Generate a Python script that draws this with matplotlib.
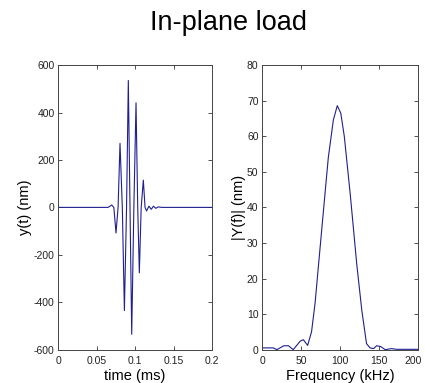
import matplotlib
matplotlib.use("Agg")
import matplotlib.pyplot as plt
import matplotlib.transforms as mtransforms

plt.rcParams["font.family"] = ["Liberation Sans", "DejaVu Sans"]
plt.rcParams["axes.unicode_minus"] = False

# time signal (ms, nm): extremes and crossings
time_ms = [0, 0.065, 0.0697, 0.0725, 0.0753, 0.078, 0.0805, 0.0835, 0.0862,
           0.089, 0.0913, 0.0935, 0.0957, 0.0985, 0.1013, 0.1035, 0.1056,
           0.108, 0.1108, 0.113, 0.115, 0.118, 0.121, 0.124, 0.127, 0.13,
           0.135, 0.2]
y_nm = [0, 0, 10, 0, -108, 0, 270, 0, -435,
        0, 535, 0, -535, 0, 441, 0, -276,
        0, 115, 0, -15, 5, -8, 5, -4, 2,
        0, 0]

# spectrum (kHz, nm)
freq_khz = [0, 14.5, 19, 28, 34, 40, 49, 53, 58.5, 63.5, 68, 76.5, 85, 91.5,
            96.5, 101, 105.5, 113, 121.5, 128, 134, 138.5, 143, 147, 152,
            158, 166, 173, 200]
amp_nm = [0.5, 0.5, 0, 1.1, 1.1, 0, 2.4, 2.8, 1.2, 5, 13, 33.6, 54, 64.6,
          68.6, 66.5, 60, 44, 24, 11, 1.7, 0.5, 0.3, 1.1, 0.9,
          0, 0.3, 0.1, 0.1]

line_color = "#1f1f90"

fig = plt.figure(figsize=(4.25, 3.83), dpi=100)
fig.text(0.537, 0.94, "In-plane load", ha="center", va="center", fontsize=19.5)

ax1 = fig.add_axes([0.1365, 0.087, 0.3624, 0.743])
ax2 = fig.add_axes([0.6165, 0.087, 0.367, 0.743])

ax1.plot(time_ms, y_nm, color=line_color, lw=0.8)
ax1.set_xlim(0, 0.2)
ax1.set_ylim(-600, 600)
ax1.set_xticks([0, 0.05, 0.1, 0.15, 0.2])
ax1.set_xticklabels(["0", "0.05", "0.1", "0.15", "0.2"])
ax1.set_yticks([-600, -400, -200, 0, 200, 400, 600])
ax1.set_xlabel("time (ms)", fontsize=10.5, labelpad=2)
ax1.set_ylabel("y(t) (nm)", fontsize=10.5, labelpad=1)

ax2.plot(freq_khz, amp_nm, color=line_color, lw=0.8)
ax2.set_xlim(0, 200)
ax2.set_ylim(0, 80)
ax2.set_xticks([0, 50, 100, 150, 200])
ax2.set_yticks(range(0, 81, 10))
ax2.set_xlabel("Frequency (kHz)", fontsize=10.5, labelpad=2)
ax2.set_ylabel("|Y(f)| (nm)", fontsize=10.5, labelpad=1)

for ax in (ax1, ax2):
    ax.tick_params(direction="in", top=True, right=True, length=3,
                   width=0.6, labelsize=7.5, colors="#333333",
                   labelcolor="#222222")
    ax.tick_params(axis="x", pad=4.5)
    ax.tick_params(axis="y", pad=2.5)
    for s in ax.spines.values():
        s.set_linewidth(0.7)
        s.set_color("#444444")

# keep the last frequency label inside the figure, as in the reference
last = ax2.get_xticklabels()[-1]
last.set_horizontalalignment("right")
last.set_transform(last.get_transform()
                   + mtransforms.ScaledTranslation(4 / 100, 0, fig.dpi_scale_trans))

fig.savefig("out.png", dpi=100)
